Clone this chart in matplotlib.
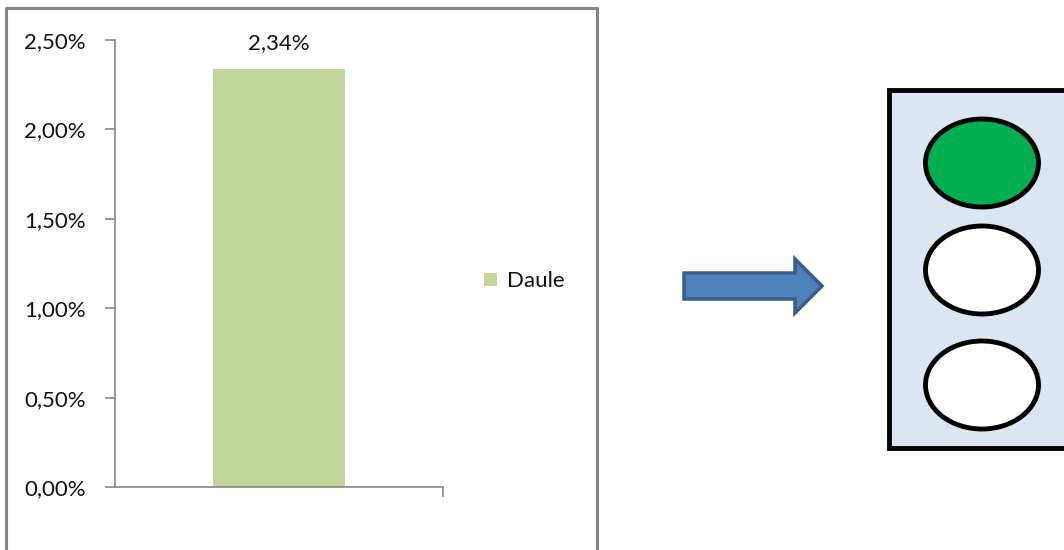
import matplotlib.pyplot as plt
from matplotlib.patches import Rectangle, Ellipse, FancyArrow
from matplotlib.ticker import FuncFormatter

# data
categories = ["Daule"]
values = [0.0234]
y_ticks = [0.0, 0.005, 0.010, 0.015, 0.020, 0.025]
light_states = ["#00B050", "white", "white"]  # top, middle, bottom

plt.rcParams["font.family"] = ["Lato", "DejaVu Sans"]

fig = plt.figure(figsize=(10.64, 5.5), dpi=100)

# overlay in pixel coords for the frame, arrow and traffic light
ov = fig.add_axes([0, 0, 1, 1])
ov.set_xlim(0, 1064)
ov.set_ylim(550, 0)
ov.axis("off")

# chart border
ov.plot([6, 6, 597, 597], [560, 8, 8, 560], color="#868686", lw=2.2, zorder=1)

# bar chart
ax = fig.add_axes([115 / 1064, 1 - 487 / 550, (443 - 115) / 1064, (487 - 40) / 550])
ax.patch.set_alpha(0)
x = range(len(categories))
bars = ax.bar(x, values, width=0.4, color="#C3D69B", label=categories[0], zorder=2)
ax.set_xlim(-0.5, 0.5)
ax.set_ylim(0, 0.025)
ax.set_yticks(y_ticks)
ax.yaxis.set_major_formatter(FuncFormatter(lambda v, p: f"{v * 100:.2f}%".replace(".", ",")))
ax.set_xticks([0.5])
ax.set_xticklabels([""])
for s in ["top", "right"]:
    ax.spines[s].set_visible(False)
for s in ["left", "bottom"]:
    ax.spines[s].set_color("#868686")
    ax.spines[s].set_linewidth(1.2)
ax.tick_params(axis="y", length=7, width=1.2, color="#868686", labelsize=16,
               labelcolor="#111111", pad=14)
ax.tick_params(axis="x", length=7, width=1.2, color="#868686")
for b, v in zip(bars, values):
    ax.annotate(f"{v * 100:.2f}%".replace(".", ","), (b.get_x() + b.get_width() / 2, v),
                xytext=(0, 11), textcoords="offset points", ha="center", va="bottom",
                fontsize=16, color="#111111")

ax.legend(loc="center left", bbox_to_anchor=(1.065, 0.46), frameon=False, fontsize=16,
          handlelength=0.55, handleheight=0.55, handletextpad=0.45, labelcolor="#111111")

# arrow
ov.add_patch(FancyArrow(684, 286, 138, 0, width=26, head_width=54, head_length=27,
                        length_includes_head=True, facecolor="#4F81BD",
                        edgecolor="#385D8A", lw=2.5, zorder=3))

# traffic light
ov.add_patch(Rectangle((889, 90), 200, 358, facecolor="#DCE6F2", edgecolor="black",
                       lw=3.5, zorder=3))
for cy, col in zip([163, 270, 385], light_states):
    ov.add_patch(Ellipse((982, cy), 113, 88, facecolor=col, edgecolor="black", lw=3.5, zorder=4))

fig.savefig("out.png", dpi=100)
